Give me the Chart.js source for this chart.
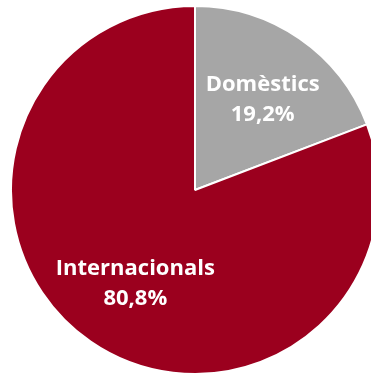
<!DOCTYPE html>
<html lang="ca">
<head>
  <meta charset="UTF-8" />
  <title>Domèstics / Internacionals</title>
  <script src="https://cdn.jsdelivr.net/npm/chart.js"></script>
  <style>
    html, body { margin: 0; padding: 0; background: #fff; overflow: hidden; width: 371px; height: 378px; }
    #wrap { position: absolute; left: 10px; top: 5px; width: 370px; height: 370px; }
  </style>
</head>
<body>
  <div id="wrap"><canvas id="chart"></canvas></div>

  <script>
    const labels = ['Domèstics', 'Internacionals'];
    const values = [19.2, 80.8];
    const colors = ['#a6a6a6', '#9b001e'];

    // etiquetes dins de cada sector
    const sliceLabels = {
      id: 'sliceLabels',
      afterDatasetsDraw(chart) {
        const ctx = chart.ctx;
        const arcs = chart.getDatasetMeta(0).data;
        ctx.save();
        ctx.fillStyle = '#fff';
        ctx.textAlign = 'center';
        ctx.textBaseline = 'alphabetic';
        ctx.font = 'bold 22px "Open Sans", sans-serif';
        arcs.forEach((arc, i) => {
          const mid = (arc.startAngle + arc.endAngle) / 2;
          const r = arc.outerRadius * 0.61;
          const x = arc.x + Math.cos(mid) * r + 4;
          const y = arc.y + Math.sin(mid) * r;
          const txt = values[i].toFixed(1).replace('.', ',') + '%';
          ctx.fillText(labels[i], x, y - 7);
          ctx.fillText(txt, x, y + 23);
        });
        ctx.restore();
      }
    };

    new Chart(document.getElementById('chart'), {
      type: 'pie',
      data: {
        labels,
        datasets: [{
          data: values,
          backgroundColor: colors,
          borderColor: '#fff',
          borderWidth: 2
        }]
      },
      options: {
        responsive: true,
        maintainAspectRatio: false,
        animation: false,
        layout: { padding: 0 },
        plugins: {
          legend: { display: false },
          tooltip: { enabled: false }
        }
      },
      plugins: [sliceLabels]
    });
  </script>
</body>
</html>
